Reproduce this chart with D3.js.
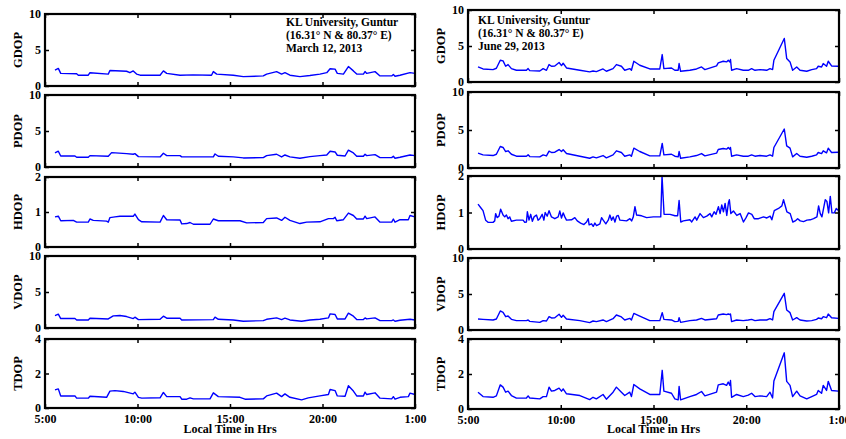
<!DOCTYPE html>
<html><head><meta charset="utf-8">
<script src="https://cdn.jsdelivr.net/npm/d3@7"></script>
<style>body{margin:0;background:#fff}</style>
</head><body><svg id="c" width="846" height="439"></svg>
<script>
const xTicks=[5,10,15,20,25];
const panelNames=["GDOP","PDOP","HDOP","VDOP","TDOP"];
const yMax=[10,10,2,10,4];
const yTicks=[[0,5,10],[0,5,10],[0,1,2],[0,5,10],[0,2,4]];
const xTitle="Local Time in Hrs";
const notesMar=["KL University, Guntur","(16.31° N & 80.37° E)","March 12, 2013"];
const notesJun=["KL University, Guntur","(16.31° N & 80.37° E)","June 29, 2013"];

// March 12, 2013 : [hour, value]
const gdopMar=[[5.54,2.2],[5.72,2.45],[5.85,1.75],[6.71,1.7],[6.8,1.5],[7.34,1.5],[7.43,1.85],[8.42,1.65],[8.51,2.15],[9.41,2.05],[9.59,1.85],[9.77,2.1],[9.95,1.65],[10.14,1.5],[11.22,1.5],[11.4,2.1],[11.58,1.75],[12.3,1.5],[13.0,1.55],[14.0,1.5],[14.1,2.0],[14.28,1.65],[15.18,1.5],[15.72,1.3],[16.8,1.4],[16.98,1.65],[17.52,2.0],[17.79,1.65],[17.97,1.85],[18.24,1.5],[18.78,1.3],[19.32,1.45],[19.86,1.65],[20.23,1.85],[20.41,2.4],[20.68,2.35],[20.8,1.75],[21.13,1.65],[21.4,2.7],[21.67,2.1],[21.85,1.65],[22.21,1.65],[22.3,2.0],[22.39,1.75],[22.84,2.0],[23.11,1.4],[23.74,1.4],[23.83,1.6],[23.92,1.35],[24.19,1.5],[24.73,1.85],[25.0,1.75]];
const pdopMar=[[5.54,1.95],[5.72,2.19],[5.85,1.53],[6.62,1.53],[6.71,1.35],[7.34,1.35],[7.43,1.58],[8.42,1.49],[8.6,2.0],[9.41,1.86],[9.77,1.77],[9.86,1.86],[10.05,1.44],[11.22,1.4],[11.4,1.91],[11.58,1.58],[12.3,1.58],[12.39,1.4],[14.1,1.4],[14.19,1.81],[14.37,1.49],[15.18,1.4],[15.72,1.26],[16.8,1.3],[16.98,1.58],[17.52,1.77],[17.79,1.4],[17.97,1.67],[18.24,1.4],[18.78,1.21],[19.32,1.44],[19.86,1.58],[20.23,1.67],[20.41,2.19],[20.68,2.09],[20.8,1.63],[21.22,1.53],[21.4,2.33],[21.67,1.95],[21.85,1.49],[22.21,1.49],[22.3,1.77],[22.39,1.58],[22.84,1.72],[23.11,1.3],[23.74,1.3],[23.83,1.49],[23.92,1.21],[24.19,1.35],[24.73,1.67],[25.0,1.58]];
const hdopMar=[[5.54,0.86],[5.72,0.88],[5.85,0.75],[6.53,0.76],[6.71,0.71],[7.34,0.71],[7.43,0.8],[7.61,0.76],[8.33,0.74],[8.42,0.71],[8.51,0.84],[8.78,0.86],[9.05,0.88],[9.77,0.88],[9.86,0.94],[10.05,0.78],[10.23,0.72],[11.22,0.71],[11.4,0.9],[11.58,0.78],[12.3,0.77],[12.39,0.66],[12.66,0.67],[12.84,0.7],[13.02,0.65],[13.92,0.65],[14.1,0.8],[14.37,0.75],[15.54,0.75],[15.9,0.69],[16.8,0.7],[16.98,0.81],[17.52,0.83],[17.79,0.76],[17.97,0.85],[18.24,0.76],[18.78,0.67],[19.14,0.71],[19.86,0.72],[20.32,0.81],[20.59,0.81],[20.68,0.85],[20.77,0.75],[21.13,0.78],[21.4,0.97],[21.67,0.9],[21.85,0.8],[22.21,0.8],[22.3,0.88],[22.39,0.81],[22.84,0.86],[23.11,0.71],[23.74,0.71],[23.83,0.8],[23.92,0.71],[24.19,0.78],[24.64,0.78],[24.73,0.9],[25.0,0.86]];
const vdopMar=[[5.54,1.73],[5.72,1.92],[5.85,1.31],[6.62,1.31],[6.71,1.12],[7.34,1.12],[7.43,1.36],[8.42,1.26],[8.69,1.68],[9.05,1.73],[9.41,1.59],[9.77,1.31],[9.86,1.5],[10.05,1.17],[11.22,1.21],[11.4,1.64],[11.58,1.36],[12.3,1.36],[12.39,1.12],[14.1,1.17],[14.19,1.5],[14.37,1.21],[15.18,1.12],[15.72,0.93],[16.8,1.03],[16.98,1.21],[17.52,1.4],[17.79,1.17],[17.97,1.36],[18.24,1.12],[18.87,0.93],[19.32,1.12],[19.86,1.21],[20.32,1.4],[20.41,1.96],[20.68,1.87],[20.8,1.26],[21.22,1.26],[21.4,2.06],[21.67,1.64],[21.85,1.17],[22.21,1.17],[22.3,1.4],[22.39,1.26],[22.84,1.4],[23.11,1.03],[23.74,1.03],[23.83,1.12],[23.92,0.93],[24.19,1.07],[24.73,1.21],[25.0,1.12]];
const tdopMar=[[5.54,1.05],[5.72,1.11],[5.85,0.7],[6.62,0.7],[6.71,0.57],[7.34,0.57],[7.43,0.68],[8.33,0.62],[8.51,0.98],[8.78,1.01],[9.23,0.96],[9.77,0.82],[9.86,0.92],[10.05,0.62],[10.23,0.57],[11.22,0.59],[11.4,0.9],[11.58,0.66],[12.3,0.66],[12.39,0.51],[12.66,0.51],[12.84,0.59],[13.02,0.53],[13.92,0.53],[14.1,0.88],[14.37,0.66],[15.54,0.62],[15.81,0.51],[16.8,0.53],[16.98,0.7],[17.52,0.86],[17.79,0.66],[17.97,0.82],[18.24,0.62],[18.87,0.47],[19.23,0.59],[19.86,0.7],[20.32,0.78],[20.41,1.07],[20.68,1.01],[20.8,0.7],[21.22,0.68],[21.4,1.29],[21.67,0.98],[21.85,0.7],[22.21,0.7],[22.3,0.92],[22.39,0.78],[22.84,0.88],[23.11,0.57],[23.74,0.53],[23.83,0.66],[23.92,0.51],[24.19,0.62],[24.64,0.66],[24.73,0.86],[25.0,0.78]];

// June 29, 2013 : shared time axis (hours) for G/P/V/TDOP
const timeJun=[5.54,5.81,6.35,6.53,6.74,6.89,7.03,7.16,7.34,7.61,
8.15,8.24,8.33,8.87,9.05,9.23,9.37,9.50,9.68,9.91,
10.04,10.13,10.31,11.03,11.56,11.74,11.92,12.28,12.46,12.82,
13.0,13.27,13.45,13.72,13.81,13.94,14.26,14.80,15.34,15.47,
15.56,15.97,16.15,16.33,16.38,16.46,16.96,17.32,17.59,17.77,
18.40,18.49,18.76,18.94,19.03,19.12,19.15,19.21,19.48,19.84,
20.11,20.29,20.47,20.74,21.10,21.28,21.42,21.49,22.05,22.18,
22.36,22.50,22.72,22.90,23.26,23.53,23.79,23.88,24.06,24.15,
24.33,24.42,24.60,24.96];
const gdopJun=[2.09,1.81,1.72,1.91,3.02,2.93,2.19,2.42,1.86,1.63,
1.63,1.86,1.58,1.53,1.86,1.63,2.42,2.19,2.23,2.70,
2.28,2.60,1.95,1.63,1.40,1.53,1.44,1.81,1.49,1.86,
2.42,2.19,1.63,1.86,1.63,2.88,2.33,1.81,1.81,3.81,
1.86,1.95,1.63,1.63,2.56,1.49,1.63,1.81,2.09,1.72,
2.23,2.65,2.88,2.79,3.02,2.79,3.12,1.63,1.86,1.63,
1.63,1.86,1.63,1.72,1.63,1.86,1.72,3.02,6.05,3.26,
2.79,1.63,2.09,1.63,1.49,1.72,1.86,2.19,2.09,2.56,
2.19,2.88,2.23,2.19];
const pdopJun=[1.95,1.73,1.64,1.81,2.83,2.70,2.17,2.26,1.81,1.55,
1.55,1.73,1.50,1.46,1.73,1.59,2.21,2.04,2.08,2.43,
2.17,2.39,1.90,1.55,1.28,1.46,1.33,1.64,1.33,1.73,
2.26,2.04,1.55,1.73,1.55,2.61,2.17,1.59,1.59,3.23,
1.73,1.81,1.55,1.46,2.17,1.28,1.46,1.64,1.90,1.59,
1.95,2.43,2.57,2.48,2.70,2.48,2.70,1.55,1.73,1.55,
1.55,1.73,1.55,1.64,1.55,1.73,1.55,2.70,5.13,2.92,
2.61,1.46,1.90,1.55,1.42,1.55,1.73,2.04,1.90,2.26,
1.99,2.61,2.04,2.08];
const vdopJun=[1.53,1.48,1.39,1.53,2.64,2.45,1.85,1.94,1.48,1.30,
1.30,1.39,1.20,1.06,1.30,1.25,1.85,1.67,1.71,2.18,
1.76,2.04,1.53,1.30,1.02,1.25,1.16,1.39,1.16,1.57,
2.08,1.81,1.39,1.62,1.39,2.31,1.94,1.30,1.30,2.41,
1.48,1.39,1.16,1.20,1.71,1.06,1.30,1.39,1.62,1.39,
1.57,2.08,2.22,2.13,2.22,2.13,2.22,1.16,1.39,1.30,
1.39,1.48,1.30,1.39,1.39,1.57,1.39,2.55,5.09,2.78,
2.41,1.39,1.71,1.39,1.25,1.30,1.48,1.67,1.57,1.85,
1.71,2.22,1.71,1.62];
const tdopJun=[0.96,0.71,0.67,0.75,1.38,1.25,0.96,1.02,0.77,0.62,
0.63,0.75,0.63,0.58,0.71,0.71,1.25,1.02,1.06,1.19,
1.02,1.15,0.87,0.77,0.54,0.67,0.58,0.83,0.56,0.96,
1.25,0.96,0.77,0.96,0.71,1.40,1.15,0.83,0.83,2.21,
1.02,0.90,0.58,0.52,1.29,0.52,0.71,0.83,1.00,0.75,
0.96,1.38,1.44,1.35,1.54,1.35,1.63,0.67,0.83,0.71,
0.79,0.90,0.71,0.75,0.71,0.96,0.63,1.60,3.21,1.58,
1.35,0.71,1.02,0.75,0.58,0.71,0.83,1.06,0.90,1.35,
1.06,1.58,1.06,1.02];
const hdopJun=[[5.54,1.23],[5.72,1.11],[5.81,1.05],[5.95,0.79],[6.08,0.73],[6.35,0.73],[6.44,0.77],[6.49,0.97],[6.57,0.86],[6.67,0.90],[6.76,1.09],[6.89,0.93],[6.98,0.88],[7.07,0.93],[7.16,0.83],[7.25,0.88],[7.34,0.76],[7.61,0.79],[7.97,0.79],[8.06,0.73],[8.15,0.74],[8.20,1.02],[8.29,0.79],[8.38,0.95],[8.47,0.76],[8.56,0.88],[8.69,0.93],[8.78,0.79],[8.87,0.83],[9.0,0.95],[9.09,0.79],[9.16,1.0],[9.27,0.90],[9.37,1.05],[9.50,0.88],[9.68,0.83],[9.86,0.88],[9.95,1.04],[10.04,0.85],[10.13,0.99],[10.22,0.88],[10.31,0.79],[10.58,0.80],[10.76,0.86],[10.89,0.77],[11.07,0.71],[11.25,0.67],[11.39,0.74],[11.48,0.83],[11.53,0.66],[11.66,0.69],[11.75,0.62],[11.84,0.71],[11.93,0.64],[12.11,0.69],[12.20,0.86],[12.29,0.79],[12.43,0.69],[12.56,0.79],[12.65,0.93],[12.74,0.79],[12.83,0.88],[12.92,0.74],[13.01,0.90],[13.10,0.92],[13.19,0.79],[13.55,0.77],[13.73,0.83],[13.82,0.77],[13.91,0.88],[14.0,1.16],[14.09,0.93],[14.36,0.91],[14.63,0.86],[14.99,0.88],[15.39,0.88],[15.46,2.0],[15.57,0.95],[15.89,0.95],[16.16,0.91],[16.30,0.91],[16.38,1.33],[16.47,0.74],[16.61,0.77],[16.97,0.80],[17.06,0.74],[17.24,0.88],[17.33,0.79],[17.51,0.97],[17.69,0.86],[17.87,0.90],[18.05,0.97],[18.14,0.88],[18.27,1.02],[18.37,0.95],[18.50,1.16],[18.59,0.97],[18.68,1.21],[18.77,1.02],[18.86,1.25],[18.95,0.92],[19.04,1.27],[19.09,1.35],[19.17,0.97],[19.31,1.04],[19.49,0.92],[19.67,0.97],[19.85,0.74],[19.99,0.86],[20.12,0.99],[20.30,0.95],[20.43,0.83],[20.66,0.83],[20.93,0.88],[21.11,0.85],[21.29,0.90],[21.38,0.80],[21.51,1.05],[21.74,1.11],[21.92,1.18],[22.01,1.35],[22.19,1.02],[22.37,0.97],[22.51,0.74],[22.64,0.77],[22.77,0.83],[22.91,0.77],[23.09,0.75],[23.27,0.79],[23.45,0.80],[23.63,0.83],[23.81,0.88],[23.90,1.18],[23.99,0.97],[24.08,0.88],[24.26,1.35],[24.35,1.30],[24.44,0.99],[24.53,1.44],[24.62,0.99],[24.75,0.99],[24.85,1.11],[24.98,1.05]];

// ---------- drawing ----------
const FONT='"Liberation Serif","Times New Roman",serif';
const svg=d3.select("#c");
const cols=[
  {x0:45,x1:415,ylab:18,panels:[[14,86],[95,167],[177,247],[256,328],[339,408]],
   note:{x:286,y:[26,39,52],lines:notesMar},
   series:[gdopMar,pdopMar,hdopMar,vdopMar,tdopMar]},
  {x0:468,x1:839,ylab:441,panels:[[10,82],[92,168],[176,249],[258,330],[339,409]],
   note:{x:478,y:[24,37,50],lines:notesJun},
   series:[d3.zip(timeJun,gdopJun),d3.zip(timeJun,pdopJun),hdopJun,d3.zip(timeJun,vdopJun),d3.zip(timeJun,tdopJun)]}
];
const fmtHour=h=>(h%24)+":00";
let cid=0;
cols.forEach(col=>{
  const x=d3.scaleLinear().domain([5,25]).range([col.x0,col.x1]);
  col.panels.forEach((p,i)=>{
    const [top,bot]=p;
    const y=d3.scaleLinear().domain([0,yMax[i]]).range([bot,top]);
    const g=svg.append("g");
    const id="clip"+(cid++);
    svg.append("clipPath").attr("id",id).append("rect")
      .attr("x",col.x0).attr("y",top).attr("width",col.x1-col.x0).attr("height",bot-top);
    // line
    g.append("path").datum(col.series[i])
      .attr("clip-path","url(#"+id+")")
      .attr("fill","none").attr("stroke","#0000ff").attr("stroke-width",1.4)
      .attr("stroke-linejoin","round")
      .attr("d",d3.line().x(d=>x(d[0])).y(d=>y(d[1])));
    const style=a=>{a.attr("font-family",FONT).attr("font-size",12).attr("font-weight","bold");
      a.select(".domain").remove(); a.selectAll(".tick line").attr("stroke","#000").attr("stroke-width",1.5);
      a.selectAll(".tick text").attr("fill","#000");};
    // left axis
    g.append("g").attr("transform",`translate(${col.x0},0)`)
      .call(d3.axisLeft(y).tickValues(yTicks[i]).tickSize(-4).tickSizeOuter(0).tickPadding(4).tickFormat(d3.format("d")))
      .call(style);
    // right axis (ticks only)
    g.append("g").attr("transform",`translate(${col.x1},0)`)
      .call(d3.axisRight(y).tickValues(yTicks[i]).tickSize(-4).tickSizeOuter(0).tickFormat(""))
      .call(style);
    // top axis
    g.append("g").attr("transform",`translate(0,${top})`)
      .call(d3.axisTop(x).tickValues(xTicks).tickSize(-4).tickSizeOuter(0).tickFormat(""))
      .call(style);
    // bottom axis
    const isLast=i===col.panels.length-1;
    g.append("g").attr("transform",`translate(0,${bot})`)
      .call(d3.axisBottom(x).tickValues(xTicks).tickSize(-4).tickSizeOuter(0).tickPadding(6).tickFormat(isLast?fmtHour:""))
      .call(style);
    // box
    g.append("rect").attr("x",col.x0).attr("y",top).attr("width",col.x1-col.x0).attr("height",bot-top)
      .attr("fill","none").attr("stroke","#000").attr("stroke-width",2.2);
    // y label
    g.append("text").attr("transform",`translate(${col.ylab},${(top+bot)/2}) rotate(-90)`)
      .attr("text-anchor","middle").attr("dominant-baseline","central")
      .attr("font-family",FONT).attr("font-size",12.5).attr("font-weight","bold").text(panelNames[i]);
  });
  // x title
  svg.append("text").attr("x",(col.x0+col.x1)/2).attr("y",433).attr("text-anchor","middle")
    .attr("font-family",FONT).attr("font-size",12).attr("font-weight","bold").text(xTitle);
  // annotation
  col.note.lines.forEach((t,k)=>{
    svg.append("text").attr("x",col.note.x).attr("y",col.note.y[k])
      .attr("font-family",FONT).attr("font-size",11.5).attr("font-weight","bold").text(t);
  });
});
</script></body></html>
